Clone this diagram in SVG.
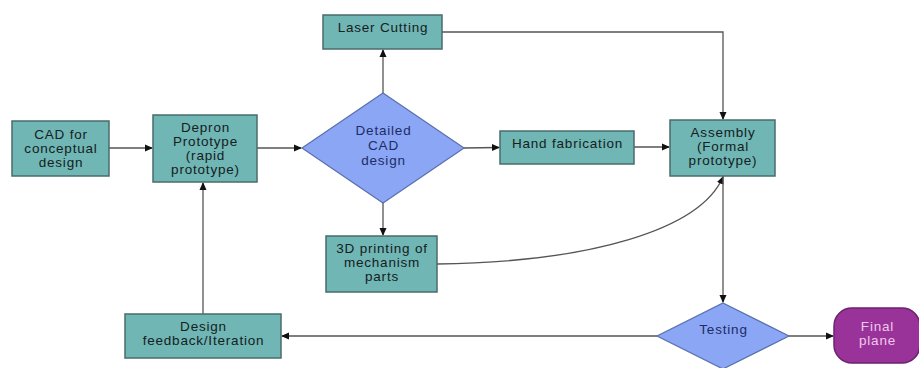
<svg xmlns="http://www.w3.org/2000/svg" width="919" height="368" viewBox="0 0 919 368">
<defs>
<marker id="ah" markerWidth="8" markerHeight="8" refX="7" refY="4" orient="auto" markerUnits="userSpaceOnUse">
<path d="M0,0.5 L8,4 L0,7.5 Z" fill="#111"/>
</marker>
<style>
.box{fill:#6fb6b5;stroke:#4a6b6b;stroke-width:1.5}
.dia{fill:#8aa6f4;stroke:#5b6fae;stroke-width:1.2}
.term{fill:#993399;stroke:#6b2270;stroke-width:1.5}
text{font-family:"Liberation Sans",Arial,sans-serif;font-size:13.5px;letter-spacing:0.8px;text-anchor:middle}
.t{fill:#162020}
.td{fill:#1e2c66}
.tf{fill:#f0c8ee}
.c{fill:none;stroke:#555;stroke-width:1.3}
</style>
</defs>
<rect width="919" height="368" fill="#fff"/>
<g id="connectors">
<path class="c" d="M109,148 L152,148" marker-end="url(#ah)"/>
<path class="c" d="M257,148 L301,148" marker-end="url(#ah)"/>
<path class="c" d="M383,93 L383,50" marker-end="url(#ah)"/>
<path class="c" d="M442,32 L723,32 L723,119" marker-end="url(#ah)"/>
<path class="c" d="M463,148 L499,147.5" marker-end="url(#ah)"/>
<path class="c" d="M634,147 L669,147" marker-end="url(#ah)"/>
<path class="c" d="M383,203 L383,235" marker-end="url(#ah)"/>
<path class="c" d="M437,264 C590,262 700,230 723,177" marker-end="url(#ah)"/>
<path class="c" d="M723,176 L723,302" marker-end="url(#ah)"/>
<path class="c" d="M788,336 L833,336" marker-end="url(#ah)"/>
<path class="c" d="M657,336 L282,336" marker-end="url(#ah)"/>
<path class="c" d="M203,314 L203,183" marker-end="url(#ah)"/>
</g>
<g id="cad-concept">
<rect class="box" x="12" y="121" width="97" height="55"/>
<text class="t" x="61" y="139">CAD for</text>
<text class="t" x="61" y="153">conceptual</text>
<text class="t" x="61" y="167">design</text>
</g>
<g id="depron">
<rect class="box" x="153" y="115" width="104" height="67"/>
<text class="t" x="205.5" y="132">Depron</text>
<text class="t" x="205.5" y="146">Prototype</text>
<text class="t" x="205.5" y="160">(rapid</text>
<text class="t" x="205.5" y="174">prototype)</text>
</g>
<g id="detailed-cad">
<polygon class="dia" points="383,93 464,148 383,203 302,148"/>
<text class="td" x="383.5" y="135">Detailed</text>
<text class="td" x="383.5" y="150">CAD</text>
<text class="td" x="383.5" y="165">design</text>
</g>
<g id="laser">
<rect class="box" x="323" y="15" width="119" height="34"/>
<text class="t" x="383" y="32">Laser Cutting</text>
</g>
<g id="hand-fab">
<rect class="box" x="500" y="131" width="134" height="33"/>
<text class="t" x="567.5" y="148">Hand fabrication</text>
</g>
<g id="assembly">
<rect class="box" x="670" y="120" width="105" height="56"/>
<text class="t" x="723" y="137">Assembly</text>
<text class="t" x="723" y="151">(Formal</text>
<text class="t" x="723" y="165">prototype)</text>
</g>
<g id="printing">
<rect class="box" x="326" y="236" width="111" height="56"/>
<text class="t" x="382" y="253">3D printing of</text>
<text class="t" x="382" y="267">mechanism</text>
<text class="t" x="382" y="281">parts</text>
</g>
<g id="testing">
<polygon class="dia" points="723,303 789,336 723,369 657,336"/>
<text class="td" x="723.5" y="334">Testing</text>
</g>
<g id="feedback">
<rect class="box" x="125" y="314" width="156" height="44"/>
<text class="t" x="203.5" y="331">Design</text>
<text class="t" x="203.5" y="345">feedback/Iteration</text>
</g>
<g id="final">
<rect class="term" x="834" y="308" width="86" height="55" rx="18" ry="18"/>
<text class="tf" x="877.5" y="331">Final</text>
<text class="tf" x="877.5" y="345">plane</text>
</g>
</svg>
